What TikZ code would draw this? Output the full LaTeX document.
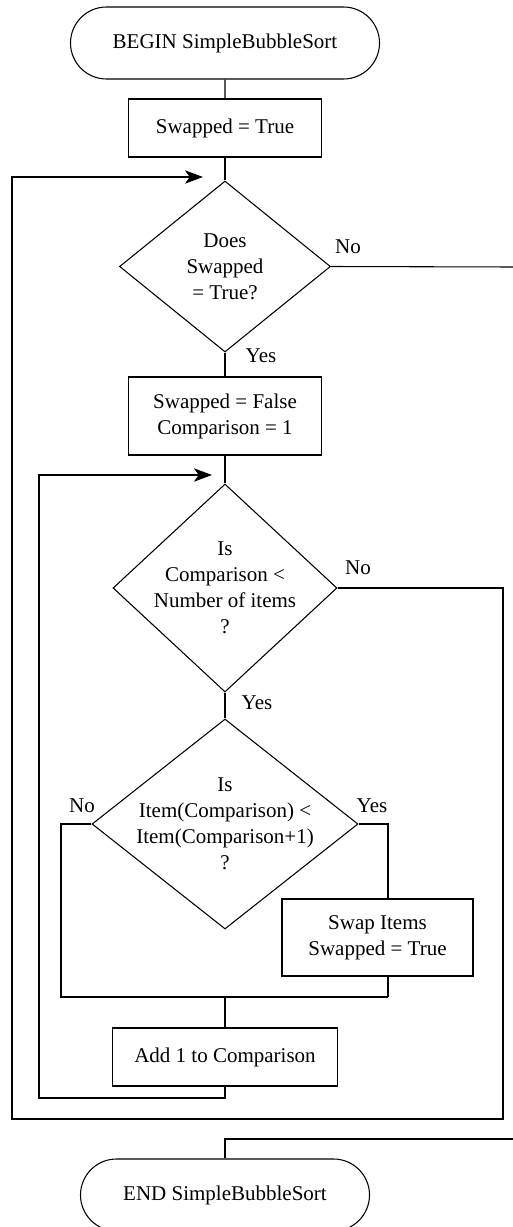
\documentclass[tikz,border=0pt]{standalone}
\usepackage{fontspec}
\setmainfont{Liberation Serif}
\usetikzlibrary{shapes.geometric,shapes.misc,arrows.meta}
\newcommand\pxl{0.75pt}
\begin{document}
\begin{tikzpicture}[x=0.75pt,y=-0.75pt,
  every node/.style={font=\fontsize{15.75}{19.5}\selectfont},
  terminal/.style={draw, rounded rectangle, inner sep=0pt, line width=0.8pt},
  procbox/.style={draw, rectangle, inner sep=0pt, align=center, line width=0.8pt},
  decision/.style={draw, diamond, inner sep=0pt, line width=0.8pt},
  dtext/.style={align=center, inner sep=0pt},
  lbl/.style={inner sep=0pt},
  flow/.style={draw, line width=0.8pt},
  loopin/.style={flow, -{Stealth[length=13.5pt,width=10pt,inset=3.5pt]}}]
\useasboundingbox (0,0) rectangle (513,1227);

% start and first assignment
\node[terminal, minimum width=309*\pxl, minimum height=72*\pxl] (begin) at (225,43) {BEGIN SimpleBubbleSort};
\node[procbox, minimum width=193*\pxl, minimum height=58*\pxl] (b1) at (225,128) {Swapped = True};

% outer loop test
\node[decision, minimum width=211*\pxl, minimum height=171*\pxl] (d1) at (225,266.5) {};
\node[dtext] (d1t) at (d1) {Does\\Swapped\\= True?};
\node[procbox, minimum width=193*\pxl, minimum height=78*\pxl] (b2) at (225,416) {Swapped = False\\Comparison = 1};

% inner loop test
\node[decision, minimum width=224*\pxl, minimum height=208*\pxl] (d2) at (225,588) {};
\node[dtext] (d2t) at (d2) {Is\\Comparison <\\Number of items\\?};

% comparison of neighbours
\node[decision, minimum width=266*\pxl, minimum height=210*\pxl] (d3) at (225,824) {};
\node[dtext] (d3t) at (d3) {Is\\Item(Comparison) <\\Item(Comparison+1)\\?};
\node[procbox, minimum width=191*\pxl, minimum height=77*\pxl] (b3) at (377.5,937.5) {Swap Items\\Swapped = True};
\node[procbox, minimum width=225*\pxl, minimum height=58*\pxl] (b4) at (225,1057) {Add 1 to Comparison};

% end
\node[terminal, minimum width=289*\pxl, minimum height=72*\pxl] (end) at (225,1195) {END SimpleBubbleSort};

% branch labels
\node[lbl] (l1n) at (348,247) {No};
\node[lbl] (l1y) at (261,356) {Yes};
\node[lbl] (l2n) at (358,568) {No};
\node[lbl] (l2y) at (257,703) {Yes};
\node[lbl] (l3n) at (82,806) {No};
\node[lbl] (l3y) at (372,806) {Yes};

% routing points
\coordinate (exitA) at (513,267);
\coordinate (exitB) at (513,1139);
\coordinate (oBR) at (503,1119);
\coordinate (oBL) at (12,1119);
\coordinate (inA) at (203,177);
\coordinate (iB) at (225,1098);
\coordinate (iBL) at (39,1098);
\coordinate (inB) at (212,475);
\coordinate (yesT) at (388,824);
\coordinate (mL) at (61,997);
\coordinate (mR) at (388,997);
\coordinate (mC) at (225,997);

% main column
\draw[flow] (begin) -- (b1);
\draw[flow] (b1) -- (d1);
\draw[flow] (d1) -- (b2);
\draw[flow] (b2) -- (d2);
\draw[flow] (d2) -- (d3);
\draw[flow] (mC) -- (b4);

% exits
\draw[flow] (d1.east) -- (exitA);
\draw[flow] (exitB) -| (end.north);

% outer loop back to the first test
\draw[loopin] (d2.east) -| (oBR) -- (oBL) |- (inA);

% branches of the comparison
\draw[flow] (d3.east) -- (yesT) -- (yesT |- b3.north);
\draw[flow] (yesT |- b3.south) -- (mR);
\draw[flow] (d3.west) -| (mL) -- (mR);

% inner loop back to the second test
\draw[loopin] (b4.south) -- (iB) -- (iBL) |- (inB);
\end{tikzpicture}
\end{document}
